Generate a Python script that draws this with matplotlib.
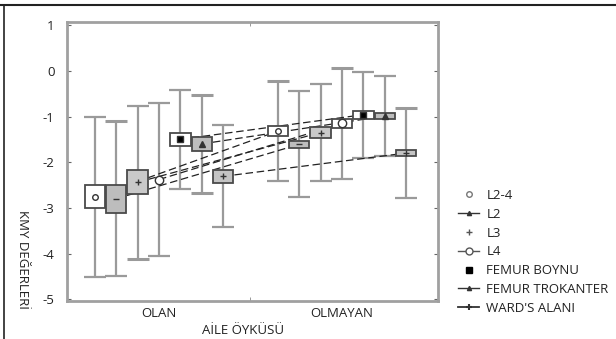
import numpy as np
import matplotlib
matplotlib.use("Agg")
import matplotlib.pyplot as plt
from matplotlib.lines import Line2D

plt.rcParams['font.family'] = ['Open Sans', 'DejaVu Sans']

# ---------------- data ----------------
categories = ["OLAN", "OLMAYAN"]
series = ["L2-4", "L2", "L3", "L4", "FEMUR BOYNU", "FEMUR TROKANTER", "WARD'S ALANI"]
mean_olan = [-2.76, -2.80, -2.44, -2.38, -1.50, -1.60, -2.31]
mean_olmayan = [-1.32, -1.61, -1.35, -1.15, -0.96, -0.99, -1.80]
sd_olan = [1.75, 1.70, 1.68, 1.68, 1.09, 1.07, 1.12]
sd_olmayan = [1.10, 1.16, 1.07, 1.21, 0.94, 0.88, 0.98]
se_olan = [0.25, 0.31, 0.26, 0.0, 0.15, 0.16, 0.14]
se_olmayan = [0.11, 0.08, 0.11, 0.10, 0.09, 0.07, 0.07]
yticks = [1, 0, -1, -2, -3, -4, -5]
xlabel = "AİLE ÖYKÜSÜ"
ylabel = "KMY DEĞERLERİ"

# ---------------- style ----------------
box_fill = ["white", "#bdbdbd", "#c9c9c9", "white", "white", "#bdbdbd", "#c4c4c4"]
markers = ["o", "_", "+", "o", "s", "^", "+"]
msizes = [4, 5, 4, 6, 4, 4, 5]
mfc = ["white", "#333333", "#333333", "white", "black", "#333333", "#333333"]
dark_caps = {(0, 2, 0), (0, 5, 0), (0, 5, 1), (1, 0, 1), (1, 6, 1), (0, 1, 1), (1, 3, 1)}
spacing = 0.117
box_w = 0.112
err_col = "#9a9a9a"

fig = plt.figure(figsize=(6.16, 3.39), dpi=100)
ax = fig.add_axes([67/616, 1-301/339, (438-67)/616, (301-22)/339])

means = [mean_olan, mean_olmayan]
sds = [sd_olan, sd_olmayan]
ses = [se_olan, se_olmayan]
cat_pos = np.arange(len(categories))
offsets = (np.arange(len(series)) - (len(series)-1)/2) * spacing

# connecting dashed lines
for i in range(len(series)):
    xs = cat_pos + offsets[i]
    ys = [means[g][i] for g in range(len(categories))]
    ax.plot(xs, ys, color="#222222", lw=0.9, ls=(0, (6, 3)), zorder=3)

# error bars
for g in range(len(categories)):
    for i in range(len(series)):
        x = cat_pos[g] + offsets[i]
        m = means[g][i]; s = sds[g][i]
        eb = ax.errorbar([x], [m], yerr=[[s], [s]], fmt="none", ecolor=err_col,
                         elinewidth=1.6, capsize=8, capthick=1.6, zorder=2)
        for k, cl in enumerate(eb[1]):
            if (g, i, k) in dark_caps:
                cl.set_color("black")
                cl.set_markeredgewidth(2.2)

# boxes
for g in range(len(categories)):
    for i in range(len(series)):
        se = ses[g][i]
        if se <= 0:
            continue
        x = cat_pos[g] + offsets[i]
        m = means[g][i]
        ax.bar([x], [2*se], bottom=[m-se], width=box_w, color=box_fill[i],
               edgecolor="#4a4a4a", linewidth=1.3, zorder=4)

# mean markers
for g in range(len(categories)):
    for i in range(len(series)):
        x = cat_pos[g] + offsets[i]
        ax.plot([x], [means[g][i]], marker=markers[i], ms=msizes[i], mfc=mfc[i],
                mec="#333333", mew=1.0, ls="none", zorder=5)

ax.set_xlim(-0.503, 1.525)
ax.set_ylim(-5.04, 1.07)
ax.set_yticks(yticks)
ax.set_yticklabels([str(v) for v in yticks])
ax.set_xticks(cat_pos)
ax.set_xticklabels(categories)
ax.set_xticks([0.5], minor=True)
ax.tick_params(axis="x", which="major", length=0, pad=4, labelsize=9.5, colors="#222222")
ax.tick_params(axis="x", which="minor", length=3, direction="in", top=True, color="#888888")
ax.tick_params(axis="y", which="major", length=3, direction="in", right=True, pad=9,
               labelsize=9.5, color="#666666", labelcolor="#222222")
for sp in ax.spines.values():
    sp.set_color("#a0a0a0")
    sp.set_linewidth(2)

fig.text(243/616, 1-330/339, xlabel, ha="center", va="center", fontsize=9.5, color="#222222")
fig.text(22/616, 1-259/339, ylabel, ha="center", va="center", rotation=270, fontsize=9.5, color="#222222")

# legend
handles = [
    Line2D([], [], marker="o", ms=4, mfc="white", mec="#777777", ls="none"),
    Line2D([], [], marker="^", ms=3, color="#333333", lw=1.0),
    Line2D([], [], marker="+", ms=5, color="#555555", ls="none"),
    Line2D([], [], marker="o", ms=5, mfc="white", mec="#555555", color="#555555", lw=1.0),
    Line2D([], [], marker="s", ms=4.5, color="black", ls="none"),
    Line2D([], [], marker="^", ms=3, color="#333333", lw=1.0),
    Line2D([], [], marker="+", ms=5, mew=1.5, color="#333333", lw=1.3),
]
fig.legend(handles, series, loc="upper left", bbox_to_anchor=(458/616, 1-189/339),
           frameon=False, fontsize=9.5, handlelength=1.6, handletextpad=0.55,
           labelspacing=0.44, borderpad=0, borderaxespad=0, labelcolor="#222222")

# outer frame lines
fig.add_artist(Line2D([0, 1], [1-5/339, 1-5/339], transform=fig.transFigure, color="#222222", lw=1.5))
fig.add_artist(Line2D([4/616, 4/616], [0, 1-5/339], transform=fig.transFigure, color="#222222", lw=1.2))

fig.savefig("out.png", dpi=100)
